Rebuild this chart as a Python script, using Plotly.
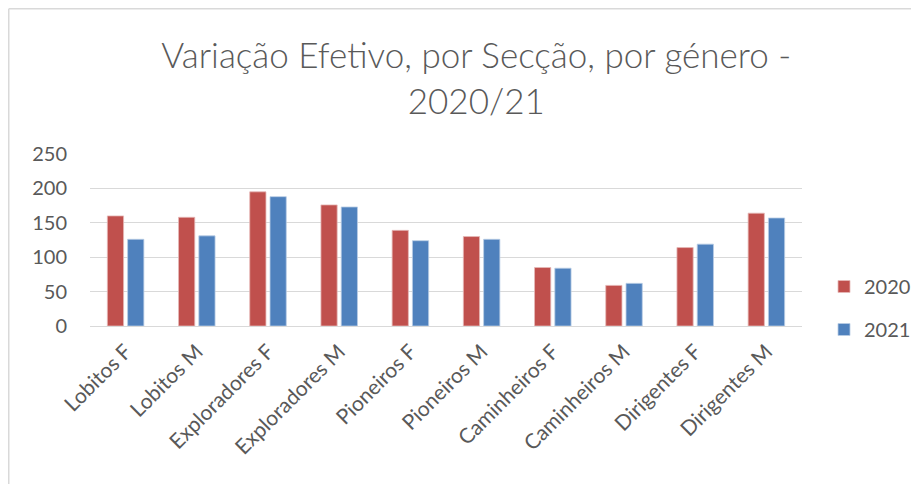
import plotly.graph_objects as go

categories = ["Lobitos F", "Lobitos M", "Exploradores F", "Exploradores M",
              "Pioneiros F", "Pioneiros M", "Caminheiros F", "Caminheiros M",
              "Dirigentes F", "Dirigentes M"]
values_2020 = [160, 158, 195, 176, 139, 130, 85, 59, 114, 164]
values_2021 = [126, 131, 188, 173, 124, 126, 84, 62, 119, 157]
series_names = ["2020", "2021"]
y_ticks = [0, 50, 100, 150, 200, 250]

FONT = "Lato"
TXT = "#595959"

fig = go.Figure()
fig.add_trace(go.Bar(x=categories, y=values_2020, name=series_names[0],
                     marker=dict(color="#C0504D", line=dict(color="#E6B9B8", width=0.8)),
                     legendgroup="a"))
fig.add_trace(go.Bar(x=categories, y=values_2021, name=series_names[1],
                     marker=dict(color="#4F81BD", line=dict(color="#B9CDE5", width=0.8)),
                     legendgroup="b"))

W, H = 911, 476
L, T, PW, PH = 82, 146, 712, 172

fig.update_layout(
    width=W, height=H,
    paper_bgcolor="white", plot_bgcolor="white",
    margin=dict(l=L, r=W - L - PW, t=T, b=H - T - PH, autoexpand=False),
    font=dict(family=FONT, color=TXT),
    title=dict(text="Variação Efetivo, por Secção, por género -<br>2020/21",
               x=0.514, xref="container", xanchor="center",
               y=0.873, yref="container", yanchor="middle",
               font=dict(size=35, color=TXT, family=FONT, weight=300)),
    barmode="group", bargap=0.43, bargroupgap=0.2,
    showlegend=True,
    legend=dict(x=(816 - L) / PW, xanchor="left", y=0.343, yanchor="top",
                font=dict(size=20, color=TXT), tracegroupgap=14,
                itemwidth=30, bgcolor="rgba(0,0,0,0)"),
    xaxis=dict(tickangle=-45, tickfont=dict(size=21, color=TXT),
               showline=True, linecolor="#D9D9D9", linewidth=1,
               ticks="", showgrid=False, ticklabelstandoff=4),
    yaxis=dict(range=[0, 250], tickvals=y_ticks, tickfont=dict(size=20, color=TXT),
               showgrid=True, gridcolor="#D9D9D9", gridwidth=1,
               zeroline=False, showline=False, ticks="", ticklabelstandoff=22),
)

# chart-area border (gray left/top edges)
bx = (0.75 - L) / PW
by = 1 + (T - 0.75) / PH
fig.add_shape(type="line", xref="paper", yref="paper",
              x0=bx, x1=bx, y0=-2, y1=by,
              line=dict(color="#D9D9D9", width=1.5))
fig.add_shape(type="line", xref="paper", yref="paper",
              x0=bx, x1=2, y0=by, y1=by,
              line=dict(color="#D9D9D9", width=1.5))

fig.write_html("out.html")
